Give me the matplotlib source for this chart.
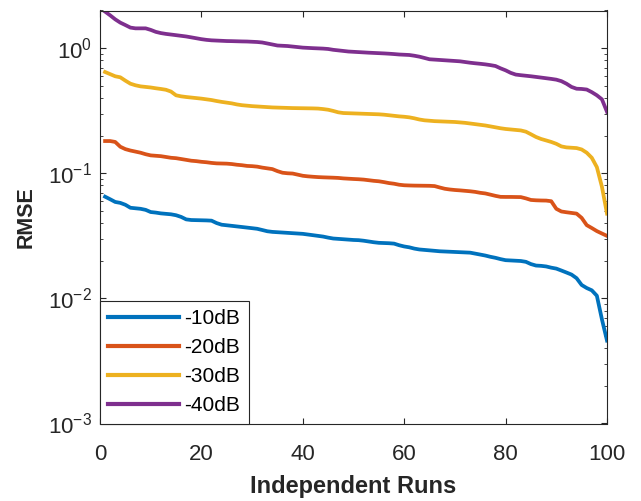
import matplotlib
matplotlib.use("Agg")
import matplotlib.pyplot as plt
from matplotlib.ticker import LogLocator, NullFormatter

# ---------------- data ----------------
runs = list(range(1, 101))

rmse_10dB = [
    0.065, 0.062, 0.059, 0.058, 0.056, 0.053, 0.0525, 0.052, 0.051, 0.049,
    0.0485, 0.0478, 0.0474, 0.047, 0.0462, 0.0448, 0.0428, 0.0423, 0.0422, 0.0421,
    0.042, 0.0418, 0.040, 0.0388, 0.0384, 0.038, 0.0376, 0.0372, 0.0368, 0.0364,
    0.036, 0.0352, 0.0344, 0.034, 0.0338, 0.0336, 0.0334, 0.0332, 0.033, 0.0328,
    0.0324, 0.032, 0.0316, 0.0312, 0.0306, 0.0301, 0.0299, 0.0297, 0.0295, 0.0293,
    0.0292, 0.0289, 0.0285, 0.0281, 0.0278, 0.0277, 0.0276, 0.0274, 0.0266, 0.026,
    0.0256, 0.025, 0.0246, 0.0244, 0.0242, 0.024, 0.0238, 0.0237, 0.0236, 0.0235,
    0.0234, 0.0233, 0.0232, 0.0228, 0.0224, 0.022, 0.0215, 0.0211, 0.0206, 0.0202,
    0.0201, 0.0200, 0.0199, 0.0196, 0.0188, 0.0183, 0.0182, 0.0180, 0.0176, 0.0173,
    0.0167, 0.0161, 0.0155, 0.0145, 0.0128, 0.0121, 0.0116, 0.0105, 0.0068, 0.0046,
]

rmse_20dB = [
    0.181, 0.181, 0.178, 0.163, 0.156, 0.152, 0.149, 0.146, 0.142, 0.139,
    0.138, 0.137, 0.135, 0.133, 0.132, 0.130, 0.128, 0.126, 0.125, 0.1235,
    0.1225, 0.121, 0.120, 0.1197, 0.1194, 0.1185, 0.117, 0.116, 0.1145, 0.114,
    0.113, 0.111, 0.1095, 0.108, 0.104, 0.101, 0.100, 0.0995, 0.0975, 0.0955,
    0.0945, 0.0938, 0.0932, 0.0928, 0.0925, 0.0922, 0.0918, 0.091, 0.0905, 0.090,
    0.0896, 0.089, 0.088, 0.087, 0.0863, 0.085, 0.0835, 0.0825, 0.081, 0.0802,
    0.0799, 0.0797, 0.0796, 0.0795, 0.0794, 0.079, 0.077, 0.0752, 0.0742, 0.0735,
    0.073, 0.0724, 0.0718, 0.071, 0.0698, 0.069, 0.0675, 0.066, 0.0648, 0.0647,
    0.0647, 0.0646, 0.0645, 0.063, 0.0612, 0.0608, 0.0606, 0.0605, 0.0598, 0.052,
    0.0495, 0.0488, 0.0482, 0.0476, 0.044, 0.0385, 0.0365, 0.0345, 0.033, 0.0316,
]

rmse_30dB = [
    0.645, 0.62, 0.596, 0.585, 0.55, 0.52, 0.505, 0.495, 0.49, 0.485,
    0.478, 0.472, 0.465, 0.45, 0.42, 0.412, 0.407, 0.403, 0.399, 0.395,
    0.39, 0.385, 0.378, 0.372, 0.367, 0.362, 0.355, 0.35, 0.347, 0.344,
    0.342, 0.34, 0.338, 0.336, 0.335, 0.334, 0.333, 0.332, 0.3315, 0.331,
    0.3305, 0.33, 0.329, 0.326, 0.322, 0.315, 0.307, 0.303, 0.302, 0.301,
    0.300, 0.299, 0.298, 0.297, 0.296, 0.294, 0.291, 0.288, 0.285, 0.283,
    0.28, 0.275, 0.269, 0.265, 0.263, 0.261, 0.26, 0.259, 0.258, 0.257,
    0.255, 0.253, 0.25, 0.247, 0.244, 0.241, 0.237, 0.233, 0.229, 0.226,
    0.224, 0.222, 0.22, 0.215, 0.205, 0.195, 0.188, 0.183, 0.178, 0.172,
    0.164, 0.161, 0.16, 0.159, 0.155, 0.146, 0.133, 0.112, 0.078, 0.0476,
]

rmse_40dB = [
    1.96, 1.83, 1.70, 1.60, 1.53, 1.46, 1.44, 1.44, 1.44, 1.40,
    1.35, 1.32, 1.30, 1.285, 1.27, 1.255, 1.24, 1.22, 1.20, 1.18,
    1.165, 1.155, 1.15, 1.145, 1.14, 1.138, 1.135, 1.132, 1.13, 1.125,
    1.12, 1.11, 1.09, 1.07, 1.05, 1.045, 1.04, 1.03, 1.02, 1.01,
    1.005, 1.0, 0.996, 0.992, 0.985, 0.97, 0.96, 0.95, 0.94, 0.935,
    0.93, 0.925, 0.92, 0.916, 0.912, 0.908, 0.903, 0.897, 0.89, 0.886,
    0.882, 0.87, 0.855, 0.835, 0.815, 0.81, 0.805, 0.8, 0.795, 0.79,
    0.785, 0.775, 0.765, 0.757, 0.75, 0.742, 0.732, 0.72, 0.69, 0.665,
    0.635, 0.615, 0.608, 0.602, 0.596, 0.589, 0.582, 0.575, 0.568, 0.56,
    0.545, 0.52, 0.49, 0.474, 0.472, 0.467, 0.445, 0.42, 0.39, 0.31,
]

labels = ["-10dB", "-20dB", "-30dB", "-40dB"]
xticks = [0, 20, 40, 60, 80, 100]

# ---------------- style ----------------
colors = ["#0072BD", "#D95319", "#EDB120", "#7E2F8E"]
axis_color = "#262626"
plt.rcParams["font.family"] = ["Liberation Sans", "DejaVu Sans"]
plt.rcParams["mathtext.fontset"] = "custom"
plt.rcParams["mathtext.rm"] = "Liberation Sans"
plt.rcParams["mathtext.it"] = "Liberation Sans:italic"
plt.rcParams["mathtext.bf"] = "Liberation Sans:bold"

fig = plt.figure(figsize=(6.41, 5.01), dpi=100)
ax = fig.add_axes([100 / 641, 1 - 423.5 / 501, (607 - 100) / 641, (423.5 - 10.5) / 501])

series = [rmse_10dB, rmse_20dB, rmse_30dB, rmse_40dB]
for vals, lab, col in zip(series, labels, colors):
    ax.plot(runs, vals, color=col, lw=2.7, label=lab, solid_joinstyle="round")

ax.set_yscale("log")
ax.set_xlim(0, 100)
ax.set_ylim(1e-3, 2)
ax.set_xticks(xticks)
ax.yaxis.set_major_locator(LogLocator(base=10, numticks=10))
ax.yaxis.set_minor_locator(LogLocator(base=10, subs=range(2, 10), numticks=20))
ax.yaxis.set_minor_formatter(NullFormatter())

for s in ax.spines.values():
    s.set_color(axis_color)
    s.set_linewidth(0.8)

ax.tick_params(which="both", direction="in", top=True, right=True, colors=axis_color,
               labelcolor="#262626")
ax.tick_params(which="major", length=4, width=0.8, labelsize=16)
ax.tick_params(axis="x", which="major", pad=15)
ax.tick_params(axis="y", which="major", pad=6)
ax.tick_params(which="minor", length=2.5, width=0.6)

ax.set_xlabel("Independent Runs", fontsize=17, fontweight="bold", color="#262626", labelpad=7)
ax.set_ylabel("RMSE", fontsize=15.5, fontweight="bold", color="#262626", labelpad=8)

leg = ax.legend(loc="lower left", bbox_to_anchor=(0, 0), borderaxespad=0,
                fontsize=15, handlelength=3.4, handletextpad=0.25,
                labelspacing=0.48, borderpad=0.4, fancybox=False,
                framealpha=1, edgecolor="#262626")
leg.get_frame().set_linewidth(0.8)
for h in leg.get_lines():
    h.set_linewidth(3.0)

fig.savefig("out.png", dpi=100)
